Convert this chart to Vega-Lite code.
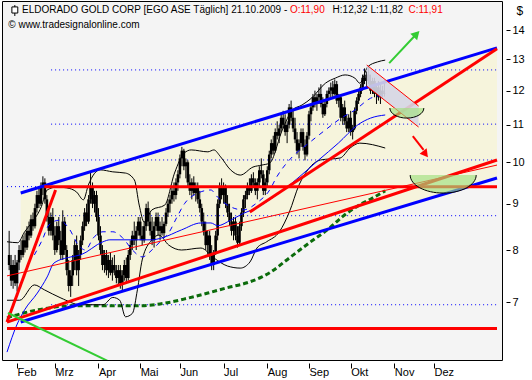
{
 "$schema": "https://vega.github.io/schema/vega-lite/v6.json",
 "width": 500, "height": 359,
 "autosize": {"type": "none"},
 "padding": {"left": 2, "top": 1, "right": 30, "bottom": 20},
 "background": "#ffffff",
 "config": {
  "view": {"stroke": "#000000", "strokeWidth": 1, "fill": "#f4f4f4"},
  "axis": {"grid": false, "domain": false, "tickColor": "#000000", "labelColor": "#000000", "labelFont": "Liberation Sans", "labelFontSize": 11, "titleFont": "Liberation Sans"}
 },
 "datasets": {
  "channel": [{"x": 1.83, "y": 9.25, "y2": 6.66}, {"x": 241.7, "y": 13.38, "y2": 9.61}],
  "lav": [{"x": 176.1, "y": 12.81, "y2": 12.14}, {"x": 202.2, "y": 11.54, "y2": 10.94}],
  "fib": [
   {"x": 17.13, "x2": 241.7, "y": 12.65}, {"x": 17.13, "x2": 241.7, "y": 11.02}, {"x": 17.13, "x2": 241.7, "y": 10.06},
   {"x": -5.08, "x2": 241.7, "y": 9.40}, {"x": 17.13, "x2": 241.7, "y": 8.73}, {"x": 17.13, "x2": 241.7, "y": 6.96}
  ],
  "bowls": [{"id": "a", "x": 196.3, "y": 11.48}, {"id": "b", "x": 214.6, "y": 9.68}],
  "heads": [{"id": "g", "x": 201.2, "y": 13.86}, {"id": "r", "x": 205.7, "y": 10.21}],
  "iconline": [{"x": -1.14, "y": 14.51, "y2": 14.92}],
  "iconbox": [{"x": -2.62, "x2": 0.35, "y": 14.62, "y2": 14.85}],
  "labels": [
   {"id": "k1", "x": 2.47, "y": 14.72, "text": "ELDORADO GOLD CORP [EGO ASE  Täglich] 21.10.2009 -"},
   {"id": "r1", "x": 137.4, "y": 14.72, "text": "O:11,90"},
   {"id": "k2", "x": 158.9, "y": 14.72, "text": "H:12,32 L:11,82"},
   {"id": "r2", "x": 197.1, "y": 14.72, "text": "C:11,91"},
   {"id": "k3", "x": -4.44, "y": 14.18, "text": "© www.tradesignalonline.com"}
  ],
  "lines": [
   {"line": "blueUpper", "x": 1.83, "y": 9.25}, {"line": "blueUpper", "x": 241.7, "y": 13.38},
   {"line": "blueLower", "x": 1.83, "y": 6.66}, {"line": "blueLower", "x": 241.7, "y": 9.61},
   {"line": "redLower", "x": -5.08, "y": 6.66}, {"line": "redLower", "x": 241.7, "y": 10.06},
   {"line": "redSteepLeft", "x": -5.08, "y": 6.66}, {"line": "redSteepLeft", "x": 19.4, "y": 9.32},
   {"line": "redHoriz", "x": 13.7, "y": 9.40}, {"line": "redHoriz", "x": 241.7, "y": 9.40},
   {"line": "redSteepUpper", "x": 117.2, "y": 8.81}, {"line": "redSteepUpper", "x": 241.7, "y": 13.35},
   {"line": "redBottom", "x": -5.08, "y": 6.55}, {"line": "redBottom", "x": 241.7, "y": 6.55},
   {"line": "redThin", "x": -5.08, "y": 7.49}, {"line": "redThin", "x": 241.7, "y": 9.93},
   {"line": "lavTop", "x": 176.1, "y": 12.81}, {"line": "lavTop", "x": 202.2, "y": 11.54},
   {"line": "lavBottom", "x": 176.1, "y": 12.14}, {"line": "lavBottom", "x": 202.2, "y": 10.94},
   {"line": "greenLine", "x": -4.59, "y": 6.815}, {"line": "greenLine", "x": 45.8, "y": 6.03},
   {"line": "greenArrow", "x": 187.4, "y": 12.87}, {"line": "greenArrow", "x": 200.2, "y": 13.79},
   {"line": "redArrow", "x": 199.3, "y": 10.69}, {"line": "redArrow", "x": 204.7, "y": 10.32},
   {"line": "ma200", "x": -5.08, "y": 6.73}, {"line": "ma200", "x": 3.8, "y": 6.82}, {"line": "ma200", "x": 13.6, "y": 6.89}, {"line": "ma200", "x": 27.0, "y": 6.94}, {"line": "ma200", "x": 43.3, "y": 6.94}, {"line": "ma200", "x": 59.6, "y": 6.94}, {"line": "ma200", "x": 76.4, "y": 7.0}, {"line": "ma200", "x": 86.2, "y": 7.08}, {"line": "ma200", "x": 96.1, "y": 7.17}, {"line": "ma200", "x": 106.0, "y": 7.27}, {"line": "ma200", "x": 115.8, "y": 7.36}, {"line": "ma200", "x": 123.3, "y": 7.47}, {"line": "ma200", "x": 127.2, "y": 7.55}, {"line": "ma200", "x": 137.1, "y": 7.84}, {"line": "ma200", "x": 146.9, "y": 8.14}, {"line": "ma200", "x": 156.8, "y": 8.44}, {"line": "ma200", "x": 164.2, "y": 8.72}, {"line": "ma200", "x": 171.6, "y": 8.95}, {"line": "ma200", "x": 179.0, "y": 9.13}, {"line": "ma200", "x": 185.4, "y": 9.30},
   {"line": "ma50", "x": -5.08, "y": 6.17}, {"line": "ma50", "x": -0.15, "y": 6.61}, {"line": "ma50", "x": 3.8, "y": 6.87}, {"line": "ma50", "x": 10.2, "y": 7.17}, {"line": "ma50", "x": 15.15, "y": 7.47}, {"line": "ma50", "x": 18.6, "y": 7.74}, {"line": "ma50", "x": 27.0, "y": 7.86}, {"line": "ma50", "x": 31.9, "y": 7.90}, {"line": "ma50", "x": 43.3, "y": 8.17}, {"line": "ma50", "x": 46.7, "y": 8.21}, {"line": "ma50", "x": 59.6, "y": 8.21}, {"line": "ma50", "x": 67.9, "y": 8.21}, {"line": "ma50", "x": 72.9, "y": 8.25}, {"line": "ma50", "x": 82.8, "y": 8.42}, {"line": "ma50", "x": 92.6, "y": 8.57}, {"line": "ma50", "x": 97.6, "y": 8.57}, {"line": "ma50", "x": 101.0, "y": 8.51}, {"line": "ma50", "x": 107.5, "y": 8.63}, {"line": "ma50", "x": 113.9, "y": 8.78}, {"line": "ma50", "x": 120.8, "y": 8.91}, {"line": "ma50", "x": 127.2, "y": 9.09}, {"line": "ma50", "x": 132.1, "y": 9.25}, {"line": "ma50", "x": 142.0, "y": 9.63}, {"line": "ma50", "x": 151.9, "y": 10.06}, {"line": "ma50", "x": 161.8, "y": 10.50}, {"line": "ma50", "x": 171.6, "y": 11.00}, {"line": "ma50", "x": 178.0, "y": 11.19}, {"line": "ma50", "x": 185.4, "y": 11.28},
   {"line": "ma20", "x": 8.7, "y": 7.90}, {"line": "ma20", "x": 12.7, "y": 8.21}, {"line": "ma20", "x": 16.1, "y": 8.53}, {"line": "ma20", "x": 21.1, "y": 8.63}, {"line": "ma20", "x": 26.0, "y": 8.46}, {"line": "ma20", "x": 30.9, "y": 8.10}, {"line": "ma20", "x": 34.4, "y": 8.00}, {"line": "ma20", "x": 38.4, "y": 8.25}, {"line": "ma20", "x": 43.3, "y": 8.38}, {"line": "ma20", "x": 48.2, "y": 8.38}, {"line": "ma20", "x": 53.2, "y": 8.25}, {"line": "ma20", "x": 58.1, "y": 8.00}, {"line": "ma20", "x": 63.0, "y": 7.86}, {"line": "ma20", "x": 67.9, "y": 8.00}, {"line": "ma20", "x": 72.9, "y": 8.21}, {"line": "ma20", "x": 76.4, "y": 8.36}, {"line": "ma20", "x": 80.3, "y": 8.68}, {"line": "ma20", "x": 84.3, "y": 9.00}, {"line": "ma20", "x": 91.2, "y": 9.25}, {"line": "ma20", "x": 97.6, "y": 9.32}, {"line": "ma20", "x": 101.0, "y": 9.15}, {"line": "ma20", "x": 107.5, "y": 8.93}, {"line": "ma20", "x": 113.9, "y": 8.86}, {"line": "ma20", "x": 120.8, "y": 9.02}, {"line": "ma20", "x": 127.2, "y": 9.32}, {"line": "ma20", "x": 130.7, "y": 9.63}, {"line": "ma20", "x": 138.6, "y": 10.14}, {"line": "ma20", "x": 146.9, "y": 10.50}, {"line": "ma20", "x": 155.3, "y": 10.86}, {"line": "ma20", "x": 163.2, "y": 11.19}, {"line": "ma20", "x": 170.1, "y": 11.42}, {"line": "ma20", "x": 178.0, "y": 11.77}, {"line": "ma20", "x": 183.9, "y": 11.86},
   {"line": "bbUpper", "x": -5.08, "y": 8.17}, {"line": "bbUpper", "x": 0.35, "y": 8.15}, {"line": "bbUpper", "x": 3.8, "y": 8.38}, {"line": "bbUpper", "x": 7.26, "y": 8.57}, {"line": "bbUpper", "x": 12.2, "y": 8.93}, {"line": "bbUpper", "x": 15.15, "y": 9.32}, {"line": "bbUpper", "x": 20.1, "y": 9.39}, {"line": "bbUpper", "x": 25.0, "y": 9.37}, {"line": "bbUpper", "x": 30.0, "y": 9.27}, {"line": "bbUpper", "x": 33.4, "y": 9.09}, {"line": "bbUpper", "x": 35.9, "y": 9.44}, {"line": "bbUpper", "x": 41.8, "y": 9.81}, {"line": "bbUpper", "x": 48.2, "y": 9.76}, {"line": "bbUpper", "x": 54.6, "y": 9.73}, {"line": "bbUpper", "x": 59.1, "y": 9.56}, {"line": "bbUpper", "x": 61.5, "y": 8.97}, {"line": "bbUpper", "x": 64.0, "y": 8.59}, {"line": "bbUpper", "x": 67.9, "y": 8.86}, {"line": "bbUpper", "x": 74.4, "y": 8.97}, {"line": "bbUpper", "x": 79.3, "y": 9.73}, {"line": "bbUpper", "x": 84.2, "y": 10.24}, {"line": "bbUpper", "x": 87.7, "y": 10.32}, {"line": "bbUpper", "x": 96.1, "y": 10.27}, {"line": "bbUpper", "x": 99.1, "y": 10.32}, {"line": "bbUpper", "x": 102.5, "y": 10.14}, {"line": "bbUpper", "x": 107.5, "y": 9.81}, {"line": "bbUpper", "x": 112.4, "y": 9.68}, {"line": "bbUpper", "x": 118.8, "y": 9.88}, {"line": "bbUpper", "x": 123.3, "y": 9.93}, {"line": "bbUpper", "x": 127.2, "y": 9.98}, {"line": "bbUpper", "x": 133.6, "y": 10.86}, {"line": "bbUpper", "x": 138.6, "y": 11.42}, {"line": "bbUpper", "x": 143.5, "y": 11.57}, {"line": "bbUpper", "x": 148.4, "y": 11.78}, {"line": "bbUpper", "x": 155.3, "y": 12.23}, {"line": "bbUpper", "x": 160.3, "y": 12.39}, {"line": "bbUpper", "x": 165.2, "y": 12.49}, {"line": "bbUpper", "x": 170.1, "y": 12.39}, {"line": "bbUpper", "x": 172.6, "y": 12.23}, {"line": "bbUpper", "x": 176.6, "y": 12.75}, {"line": "bbUpper", "x": 181.5, "y": 12.91}, {"line": "bbUpper", "x": 185.4, "y": 12.97},
   {"line": "bbLower", "x": -5.08, "y": 7.04}, {"line": "bbLower", "x": 1.33, "y": 7.04}, {"line": "bbLower", "x": 8.7, "y": 7.32}, {"line": "bbLower", "x": 13.7, "y": 7.23}, {"line": "bbLower", "x": 22.1, "y": 7.08}, {"line": "bbLower", "x": 31.9, "y": 6.96}, {"line": "bbLower", "x": 43.3, "y": 6.96}, {"line": "bbLower", "x": 48.2, "y": 7.09}, {"line": "bbLower", "x": 51.7, "y": 7.04}, {"line": "bbLower", "x": 54.6, "y": 6.75}, {"line": "bbLower", "x": 58.1, "y": 6.81}, {"line": "bbLower", "x": 60.6, "y": 7.23}, {"line": "bbLower", "x": 63.0, "y": 7.80}, {"line": "bbLower", "x": 67.9, "y": 8.21}, {"line": "bbLower", "x": 71.4, "y": 8.31}, {"line": "bbLower", "x": 76.4, "y": 8.10}, {"line": "bbLower", "x": 82.8, "y": 8.00}, {"line": "bbLower", "x": 92.6, "y": 8.04}, {"line": "bbLower", "x": 99.1, "y": 7.84}, {"line": "bbLower", "x": 106.0, "y": 7.68}, {"line": "bbLower", "x": 112.4, "y": 7.64}, {"line": "bbLower", "x": 117.3, "y": 7.76}, {"line": "bbLower", "x": 120.8, "y": 8.04}, {"line": "bbLower", "x": 125.7, "y": 8.17}, {"line": "bbLower", "x": 132.1, "y": 8.38}, {"line": "bbLower", "x": 137.1, "y": 8.81}, {"line": "bbLower", "x": 142.0, "y": 9.44}, {"line": "bbLower", "x": 146.9, "y": 9.84}, {"line": "bbLower", "x": 152.9, "y": 10.06}, {"line": "bbLower", "x": 162.7, "y": 10.11}, {"line": "bbLower", "x": 167.7, "y": 10.37}, {"line": "bbLower", "x": 172.6, "y": 10.50}, {"line": "bbLower", "x": 185.4, "y": 10.37}
  ],
  "candles": [
   {"x": -4, "o": 7.9, "h": 8.4, "l": 7.6, "c": 7.7}, {"x": -3, "o": 7.7, "h": 7.9, "l": 7.3, "c": 7.4}, {"x": -2, "o": 7.4, "h": 7.8, "l": 7.25, "c": 7.7}, {"x": -1, "o": 7.7, "h": 7.9, "l": 7.3, "c": 7.35},
   {"x": 0, "o": 7.35, "h": 7.8, "l": 7.2, "c": 7.75}, {"x": 1, "o": 7.75, "h": 8.1, "l": 7.6, "c": 8.0}, {"x": 2, "o": 8.0, "h": 8.2, "l": 7.8, "c": 7.9}, {"x": 3, "o": 7.9, "h": 8.3, "l": 7.85, "c": 8.2},
   {"x": 4, "o": 8.2, "h": 8.35, "l": 7.95, "c": 8.05}, {"x": 5, "o": 8.05, "h": 8.5, "l": 8.0, "c": 8.4}, {"x": 6, "o": 8.4, "h": 8.6, "l": 8.2, "c": 8.3}, {"x": 7, "o": 8.3, "h": 8.75, "l": 8.25, "c": 8.65},
   {"x": 8, "o": 8.65, "h": 8.8, "l": 8.4, "c": 8.5}, {"x": 9, "o": 8.5, "h": 9.0, "l": 8.45, "c": 8.9}, {"x": 10, "o": 8.9, "h": 9.3, "l": 8.8, "c": 9.2}, {"x": 11, "o": 9.2, "h": 9.4, "l": 8.9, "c": 9.0},
   {"x": 12, "o": 9.0, "h": 9.5, "l": 8.95, "c": 9.4}, {"x": 13, "o": 9.4, "h": 9.65, "l": 9.2, "c": 9.5}, {"x": 14, "o": 9.5, "h": 9.6, "l": 9.0, "c": 9.1}, {"x": 15, "o": 9.1, "h": 9.2, "l": 8.6, "c": 8.7},
   {"x": 16, "o": 8.7, "h": 8.9, "l": 8.3, "c": 8.4}, {"x": 17, "o": 8.4, "h": 8.8, "l": 8.3, "c": 8.7}, {"x": 18, "o": 8.7, "h": 8.9, "l": 8.2, "c": 8.3}, {"x": 19, "o": 8.3, "h": 8.5, "l": 7.9, "c": 8.0},
   {"x": 20, "o": 8.0, "h": 8.6, "l": 7.95, "c": 8.5}, {"x": 21, "o": 8.5, "h": 8.7, "l": 8.1, "c": 8.2}, {"x": 22, "o": 8.2, "h": 8.4, "l": 7.8, "c": 7.9}, {"x": 23, "o": 7.9, "h": 8.85, "l": 7.8, "c": 8.6},
   {"x": 24, "o": 8.6, "h": 8.7, "l": 7.9, "c": 8.0}, {"x": 25, "o": 8.0, "h": 8.1, "l": 7.5, "c": 7.6}, {"x": 26, "o": 7.6, "h": 7.8, "l": 7.2, "c": 7.3}, {"x": 27, "o": 7.3, "h": 7.6, "l": 7.1, "c": 7.5},
   {"x": 28, "o": 7.5, "h": 7.9, "l": 7.3, "c": 7.8}, {"x": 29, "o": 7.8, "h": 8.2, "l": 7.6, "c": 8.1}, {"x": 30, "o": 8.1, "h": 8.3, "l": 7.5, "c": 7.6}, {"x": 31, "o": 7.6, "h": 8.0, "l": 7.3, "c": 7.9},
   {"x": 32, "o": 7.9, "h": 8.3, "l": 7.8, "c": 8.2}, {"x": 33, "o": 8.2, "h": 8.6, "l": 8.1, "c": 8.5}, {"x": 34, "o": 8.5, "h": 8.9, "l": 8.4, "c": 8.8}, {"x": 35, "o": 8.8, "h": 9.0, "l": 8.5, "c": 8.6},
   {"x": 36, "o": 8.6, "h": 9.2, "l": 8.55, "c": 9.1}, {"x": 37, "o": 9.1, "h": 9.75, "l": 9.0, "c": 9.4}, {"x": 38, "o": 9.4, "h": 9.5, "l": 8.9, "c": 9.0}, {"x": 39, "o": 9.0, "h": 9.3, "l": 8.8, "c": 9.2},
   {"x": 40, "o": 9.2, "h": 9.3, "l": 8.6, "c": 8.7}, {"x": 41, "o": 8.7, "h": 8.9, "l": 8.2, "c": 8.3}, {"x": 42, "o": 8.3, "h": 8.5, "l": 7.9, "c": 8.0}, {"x": 43, "o": 8.0, "h": 8.1, "l": 7.6, "c": 7.7},
   {"x": 44, "o": 7.7, "h": 8.0, "l": 7.55, "c": 7.9}, {"x": 45, "o": 7.9, "h": 8.0, "l": 7.5, "c": 7.6}, {"x": 46, "o": 7.6, "h": 7.9, "l": 7.45, "c": 7.8}, {"x": 47, "o": 7.8, "h": 7.95, "l": 7.5, "c": 7.55},
   {"x": 48, "o": 7.55, "h": 7.85, "l": 7.4, "c": 7.7}, {"x": 49, "o": 7.7, "h": 7.9, "l": 7.5, "c": 7.6}, {"x": 50, "o": 7.6, "h": 7.7, "l": 7.35, "c": 7.45}, {"x": 51, "o": 7.45, "h": 7.7, "l": 7.3, "c": 7.6},
   {"x": 52, "o": 7.6, "h": 7.7, "l": 7.25, "c": 7.35}, {"x": 53, "o": 7.35, "h": 7.6, "l": 7.22, "c": 7.5}, {"x": 54, "o": 7.5, "h": 7.8, "l": 7.4, "c": 7.7}, {"x": 55, "o": 7.7, "h": 7.85, "l": 7.35, "c": 7.45},
   {"x": 56, "o": 7.45, "h": 8.0, "l": 7.4, "c": 7.9}, {"x": 57, "o": 7.9, "h": 8.2, "l": 7.8, "c": 8.1}, {"x": 58, "o": 8.1, "h": 8.4, "l": 8.0, "c": 8.3}, {"x": 59, "o": 8.3, "h": 8.6, "l": 8.1, "c": 8.2},
   {"x": 60, "o": 8.2, "h": 8.5, "l": 8.0, "c": 8.4}, {"x": 61, "o": 8.4, "h": 8.7, "l": 8.3, "c": 8.6}, {"x": 62, "o": 8.6, "h": 8.7, "l": 8.2, "c": 8.3}, {"x": 63, "o": 8.3, "h": 8.5, "l": 8.1, "c": 8.2},
   {"x": 64, "o": 8.2, "h": 8.6, "l": 8.15, "c": 8.5}, {"x": 65, "o": 8.5, "h": 9.0, "l": 8.4, "c": 8.9}, {"x": 66, "o": 8.9, "h": 9.05, "l": 8.5, "c": 8.6}, {"x": 67, "o": 8.6, "h": 8.8, "l": 8.3, "c": 8.4},
   {"x": 68, "o": 8.4, "h": 8.7, "l": 8.1, "c": 8.2}, {"x": 69, "o": 8.2, "h": 8.6, "l": 8.05, "c": 8.5}, {"x": 70, "o": 8.5, "h": 8.8, "l": 8.4, "c": 8.7}, {"x": 71, "o": 8.7, "h": 8.8, "l": 8.3, "c": 8.4},
   {"x": 72, "o": 8.4, "h": 8.6, "l": 8.2, "c": 8.5}, {"x": 73, "o": 8.5, "h": 8.7, "l": 8.3, "c": 8.35}, {"x": 74, "o": 8.35, "h": 8.6, "l": 8.25, "c": 8.55}, {"x": 75, "o": 8.55, "h": 8.9, "l": 8.5, "c": 8.8},
   {"x": 76, "o": 8.8, "h": 9.1, "l": 8.7, "c": 9.0}, {"x": 77, "o": 9.0, "h": 9.2, "l": 8.8, "c": 9.1}, {"x": 78, "o": 9.1, "h": 9.4, "l": 9.0, "c": 9.3}, {"x": 79, "o": 9.3, "h": 9.5, "l": 9.05, "c": 9.2},
   {"x": 80, "o": 9.2, "h": 9.6, "l": 9.1, "c": 9.5}, {"x": 81, "o": 9.5, "h": 9.8, "l": 9.3, "c": 9.7}, {"x": 82, "o": 9.7, "h": 10.2, "l": 9.6, "c": 10.1}, {"x": 83, "o": 10.1, "h": 10.4, "l": 9.9, "c": 10.3},
   {"x": 84, "o": 10.3, "h": 10.35, "l": 9.8, "c": 9.9}, {"x": 85, "o": 9.9, "h": 10.1, "l": 9.6, "c": 10.0}, {"x": 86, "o": 10.0, "h": 10.05, "l": 9.4, "c": 9.5}, {"x": 87, "o": 9.5, "h": 9.7, "l": 9.2, "c": 9.3},
   {"x": 88, "o": 9.3, "h": 9.6, "l": 9.1, "c": 9.5}, {"x": 89, "o": 9.5, "h": 9.65, "l": 9.2, "c": 9.25}, {"x": 90, "o": 9.25, "h": 9.5, "l": 9.05, "c": 9.4}, {"x": 91, "o": 9.4, "h": 9.5, "l": 9.0, "c": 9.1},
   {"x": 92, "o": 9.1, "h": 9.3, "l": 8.8, "c": 8.9}, {"x": 93, "o": 8.9, "h": 9.0, "l": 8.5, "c": 8.6}, {"x": 94, "o": 8.6, "h": 8.8, "l": 8.3, "c": 8.4}, {"x": 95, "o": 8.4, "h": 8.6, "l": 8.0, "c": 8.1},
   {"x": 96, "o": 8.1, "h": 8.4, "l": 7.9, "c": 8.3}, {"x": 97, "o": 8.3, "h": 8.4, "l": 7.8, "c": 7.9}, {"x": 98, "o": 7.9, "h": 8.1, "l": 7.6, "c": 7.7}, {"x": 99, "o": 7.7, "h": 8.0, "l": 7.6, "c": 7.95},
   {"x": 100, "o": 7.95, "h": 8.4, "l": 7.9, "c": 8.3}, {"x": 101, "o": 8.3, "h": 9.1, "l": 8.2, "c": 9.0}, {"x": 102, "o": 9.0, "h": 9.5, "l": 8.9, "c": 9.4}, {"x": 103, "o": 9.4, "h": 9.6, "l": 9.1, "c": 9.2},
   {"x": 104, "o": 9.2, "h": 9.5, "l": 9.0, "c": 9.4}, {"x": 105, "o": 9.4, "h": 9.45, "l": 8.9, "c": 9.0}, {"x": 106, "o": 9.0, "h": 9.2, "l": 8.7, "c": 8.8}, {"x": 107, "o": 8.8, "h": 9.0, "l": 8.5, "c": 8.6},
   {"x": 108, "o": 8.6, "h": 8.8, "l": 8.3, "c": 8.4}, {"x": 109, "o": 8.4, "h": 8.7, "l": 8.2, "c": 8.6}, {"x": 110, "o": 8.6, "h": 8.7, "l": 8.2, "c": 8.3}, {"x": 111, "o": 8.3, "h": 8.5, "l": 8.05, "c": 8.15},
   {"x": 112, "o": 8.15, "h": 8.6, "l": 8.1, "c": 8.5}, {"x": 113, "o": 8.5, "h": 8.9, "l": 8.4, "c": 8.8}, {"x": 114, "o": 8.8, "h": 9.2, "l": 8.7, "c": 9.1}, {"x": 115, "o": 9.1, "h": 9.3, "l": 8.9, "c": 9.2},
   {"x": 116, "o": 9.2, "h": 9.5, "l": 9.1, "c": 9.4}, {"x": 117, "o": 9.4, "h": 9.6, "l": 9.2, "c": 9.3}, {"x": 118, "o": 9.3, "h": 9.7, "l": 9.25, "c": 9.6}, {"x": 119, "o": 9.6, "h": 9.75, "l": 9.4, "c": 9.5},
   {"x": 120, "o": 9.5, "h": 9.6, "l": 9.2, "c": 9.3}, {"x": 121, "o": 9.3, "h": 9.6, "l": 9.1, "c": 9.5}, {"x": 122, "o": 9.5, "h": 9.9, "l": 9.4, "c": 9.8}, {"x": 123, "o": 9.8, "h": 10.1, "l": 9.6, "c": 9.7},
   {"x": 124, "o": 9.7, "h": 9.8, "l": 9.2, "c": 9.3}, {"x": 125, "o": 9.3, "h": 9.6, "l": 9.2, "c": 9.5}, {"x": 126, "o": 9.5, "h": 9.9, "l": 9.4, "c": 9.8}, {"x": 127, "o": 9.8, "h": 10.3, "l": 9.7, "c": 10.2},
   {"x": 128, "o": 10.2, "h": 10.6, "l": 10.1, "c": 10.5}, {"x": 129, "o": 10.5, "h": 10.7, "l": 10.2, "c": 10.3}, {"x": 130, "o": 10.3, "h": 10.9, "l": 10.25, "c": 10.8}, {"x": 131, "o": 10.8, "h": 11.1, "l": 10.6, "c": 10.7},
   {"x": 132, "o": 10.7, "h": 11.0, "l": 10.5, "c": 10.9}, {"x": 133, "o": 10.9, "h": 11.3, "l": 10.8, "c": 11.2}, {"x": 134, "o": 11.2, "h": 11.4, "l": 10.9, "c": 11.0}, {"x": 135, "o": 11.0, "h": 11.3, "l": 10.7, "c": 10.8},
   {"x": 136, "o": 10.8, "h": 11.1, "l": 10.5, "c": 11.0}, {"x": 137, "o": 11.0, "h": 11.6, "l": 10.9, "c": 11.5}, {"x": 138, "o": 11.5, "h": 11.7, "l": 11.1, "c": 11.2}, {"x": 139, "o": 11.2, "h": 11.4, "l": 10.8, "c": 10.9},
   {"x": 140, "o": 10.9, "h": 11.2, "l": 10.5, "c": 10.6}, {"x": 141, "o": 10.6, "h": 10.8, "l": 10.2, "c": 10.3}, {"x": 142, "o": 10.3, "h": 10.6, "l": 10.1, "c": 10.5}, {"x": 143, "o": 10.5, "h": 10.9, "l": 10.4, "c": 10.8},
   {"x": 144, "o": 10.8, "h": 10.9, "l": 10.3, "c": 10.4}, {"x": 145, "o": 10.4, "h": 10.6, "l": 10.05, "c": 10.2}, {"x": 146, "o": 10.2, "h": 10.8, "l": 10.15, "c": 10.7}, {"x": 147, "o": 10.7, "h": 11.4, "l": 10.6, "c": 11.3},
   {"x": 148, "o": 11.3, "h": 11.6, "l": 11.1, "c": 11.5}, {"x": 149, "o": 11.5, "h": 11.9, "l": 11.4, "c": 11.8}, {"x": 150, "o": 11.8, "h": 12.0, "l": 11.5, "c": 11.6}, {"x": 151, "o": 11.6, "h": 11.9, "l": 11.4, "c": 11.8},
   {"x": 152, "o": 11.8, "h": 12.1, "l": 11.6, "c": 11.9}, {"x": 153, "o": 11.9, "h": 12.2, "l": 11.5, "c": 11.6}, {"x": 154, "o": 11.6, "h": 11.8, "l": 11.2, "c": 11.3}, {"x": 155, "o": 11.3, "h": 11.7, "l": 11.25, "c": 11.6},
   {"x": 156, "o": 11.6, "h": 12.0, "l": 11.5, "c": 11.9}, {"x": 157, "o": 11.9, "h": 12.1, "l": 11.7, "c": 12.0}, {"x": 158, "o": 12.0, "h": 12.25, "l": 11.8, "c": 12.1}, {"x": 159, "o": 12.1, "h": 12.3, "l": 11.8, "c": 11.9},
   {"x": 160, "o": 11.9, "h": 12.35, "l": 11.85, "c": 12.2}, {"x": 161, "o": 12.2, "h": 12.3, "l": 11.6, "c": 11.7}, {"x": 162, "o": 11.7, "h": 11.9, "l": 11.5, "c": 11.8}, {"x": 163, "o": 11.8, "h": 11.85, "l": 11.1, "c": 11.2},
   {"x": 164, "o": 11.2, "h": 11.6, "l": 11.0, "c": 11.5}, {"x": 165, "o": 11.5, "h": 11.7, "l": 11.0, "c": 11.1}, {"x": 166, "o": 11.1, "h": 11.3, "l": 10.8, "c": 10.9}, {"x": 167, "o": 10.9, "h": 11.3, "l": 10.8, "c": 11.2},
   {"x": 168, "o": 11.2, "h": 11.4, "l": 10.7, "c": 10.8}, {"x": 169, "o": 10.8, "h": 11.0, "l": 10.6, "c": 10.9}, {"x": 170, "o": 10.9, "h": 11.5, "l": 10.85, "c": 11.4}, {"x": 171, "o": 11.4, "h": 11.8, "l": 11.3, "c": 11.7},
   {"x": 172, "o": 11.7, "h": 12.0, "l": 11.6, "c": 11.9}, {"x": 173, "o": 11.9, "h": 12.2, "l": 11.8, "c": 12.1}, {"x": 174, "o": 12.1, "h": 12.5, "l": 12.0, "c": 12.4}, {"x": 175, "o": 12.4, "h": 12.7, "l": 12.2, "c": 12.3},
   {"x": 176, "o": 12.3, "h": 12.6, "l": 12.1, "c": 12.5}, {"x": 177, "o": 12.5, "h": 12.75, "l": 12.2, "c": 12.3}, {"x": 178, "o": 12.3, "h": 12.5, "l": 11.9, "c": 12.0}, {"x": 179, "o": 12.0, "h": 12.4, "l": 11.9, "c": 12.3},
   {"x": 180, "o": 12.3, "h": 12.4, "l": 11.8, "c": 11.9}, {"x": 181, "o": 11.9, "h": 12.2, "l": 11.6, "c": 12.1}, {"x": 182, "o": 12.1, "h": 12.3, "l": 11.7, "c": 11.8}, {"x": 183, "o": 11.8, "h": 12.2, "l": 11.6, "c": 12.0},
   {"x": 184, "o": 12.0, "h": 12.15, "l": 11.75, "c": 11.9}, {"x": 185, "o": 11.9, "h": 12.32, "l": 11.82, "c": 11.91}
  ]
 },
 "encoding": {
  "x": {"field": "x", "type": "quantitative", "scale": {"type": "linear", "domain": [-5.08, 241.7], "nice": false, "zero": false},
        "axis": {"title": null, "values": [0, 19, 41, 62, 82, 104, 126, 147, 168, 190, 210], "labelExpr": "datum.value==0?'Feb':datum.value==19?'Mrz':datum.value==41?'Apr':datum.value==62?'Mai':datum.value==82?'Jun':datum.value==104?'Jul':datum.value==126?'Aug':datum.value==147?'Sep':datum.value==168?'Okt':datum.value==190?'Nov':'Dez'", "tickSize": 5, "offset": 3, "labelAlign": "left", "labelBaseline": "top", "labelPadding": -2, "labelDx": 1, "labelFlush": false, "labelOverlap": false, "labelBound": false}},
  "y": {"field": "y", "type": "quantitative", "scale": {"type": "log", "domain": [6.047, 15.075], "nice": false},
        "axis": {"title": "$", "orient": "right", "values": [7, 8, 9, 10, 11, 12, 13, 14], "format": "d", "tickSize": 4, "offset": 4, "labelPadding": 2, "labelAlign": "left", "labelBaseline": "middle", "titleAngle": 0, "titleX": 10, "titleY": 9, "titleAlign": "left", "titleBaseline": "middle", "titleFontSize": 12, "titleFontWeight": "normal", "titleColor": "#000000"}}
 },
 "layer": [
  {"data": {"name": "channel"}, "mark": {"type": "area", "color": "#f6f4dc", "opacity": 1}, "encoding": {"y2": {"field": "y2"}}},
  {"data": {"name": "fib"}, "mark": {"type": "rule", "color": "#0000ff", "strokeWidth": 1, "strokeDash": [1, 3]}, "encoding": {"x2": {"field": "x2"}}},
  {"data": {"name": "candles"}, "mark": {"type": "rule", "color": "#000000", "strokeWidth": 1},
   "encoding": {"y": {"field": "l", "type": "quantitative", "scale": {"type": "log", "domain": [6.047, 15.075], "nice": false}}, "y2": {"field": "h"}}},
  {"data": {"name": "candles"}, "mark": {"type": "bar", "width": 2.6, "color": "#000000"},
   "encoding": {"y": {"field": "o", "type": "quantitative", "scale": {"type": "log", "domain": [6.047, 15.075], "nice": false}}, "y2": {"field": "c"}}},
  {"data": {"name": "lines"}, "transform": [{"filter": {"field": "line", "equal": "ma200"}}], "mark": {"type": "line", "color": "#0b6b0b", "strokeWidth": 3, "strokeDash": [5, 3], "interpolate": "monotone", "clip": true}},
  {"data": {"name": "lines"}, "transform": [{"filter": {"field": "line", "oneOf": ["bbUpper", "bbLower"]}}], "mark": {"type": "line", "color": "#000000", "strokeWidth": 1, "interpolate": "monotone", "clip": true}, "encoding": {"detail": {"field": "line"}}},
  {"data": {"name": "lines"}, "transform": [{"filter": {"field": "line", "equal": "ma20"}}], "mark": {"type": "line", "color": "#0000ff", "strokeWidth": 1, "strokeDash": [5, 5], "interpolate": "monotone", "clip": true}},
  {"data": {"name": "lines"}, "transform": [{"filter": {"field": "line", "equal": "ma50"}}], "mark": {"type": "line", "color": "#0000ff", "strokeWidth": 1, "interpolate": "monotone", "clip": true}},
  {"data": {"name": "lines"}, "transform": [{"filter": {"field": "line", "equal": "redThin"}}], "mark": {"type": "line", "color": "#ff0000", "strokeWidth": 1, "clip": true}},
  {"data": {"name": "lines"}, "transform": [{"filter": {"field": "line", "oneOf": ["blueUpper", "blueLower"]}}], "mark": {"type": "line", "color": "#0000ff", "strokeWidth": 3, "clip": true}, "encoding": {"detail": {"field": "line"}}},
  {"data": {"name": "lines"}, "transform": [{"filter": {"field": "line", "oneOf": ["redLower", "redSteepLeft", "redHoriz", "redSteepUpper", "redBottom"]}}], "mark": {"type": "line", "color": "#ff0000", "strokeWidth": 3, "clip": true}, "encoding": {"detail": {"field": "line"}}},
  {"data": {"name": "lines"}, "transform": [{"filter": {"field": "line", "equal": "greenLine"}}], "mark": {"type": "line", "color": "#33cc33", "strokeWidth": 2, "clip": true}},
  {"data": {"name": "lav"}, "mark": {"type": "area", "color": "#d6d6e4", "opacity": 0.9}, "encoding": {"y2": {"field": "y2"}}},
  {"data": {"name": "lines"}, "transform": [{"filter": {"field": "line", "oneOf": ["lavTop", "lavBottom"]}}], "mark": {"type": "line", "color": "#ff0000", "strokeWidth": 1}, "encoding": {"detail": {"field": "line"}}},
  {"data": {"name": "bowls"}, "transform": [{"filter": {"field": "id", "equal": "a"}}], "mark": {"type": "point", "shape": "M -1 0 A 1 0.59 0 0 0 1 0", "size": 1156, "filled": true, "fill": "#9fe07e", "fillOpacity": 0.65, "stroke": "#000000", "strokeWidth": 1, "opacity": 1}},
  {"data": {"name": "bowls"}, "transform": [{"filter": {"field": "id", "equal": "b"}}], "mark": {"type": "point", "shape": "M -1 0 A 1 0.545 0 0 0 1 0", "size": 4356, "filled": true, "fill": "#9fe07e", "fillOpacity": 0.65, "stroke": "#000000", "strokeWidth": 1, "opacity": 1}},
  {"data": {"name": "lines"}, "transform": [{"filter": {"field": "line", "equal": "greenArrow"}}], "mark": {"type": "line", "color": "#33cc33", "strokeWidth": 2}},
  {"data": {"name": "lines"}, "transform": [{"filter": {"field": "line", "equal": "redArrow"}}], "mark": {"type": "line", "color": "#ff0000", "strokeWidth": 2}},
  {"data": {"name": "heads"}, "transform": [{"filter": {"field": "id", "equal": "g"}}], "mark": {"type": "point", "shape": "triangle-up", "angle": 44, "size": 90, "filled": true, "color": "#33cc33", "opacity": 1}},
  {"data": {"name": "heads"}, "transform": [{"filter": {"field": "id", "equal": "r"}}], "mark": {"type": "point", "shape": "triangle-up", "angle": 142, "size": 80, "filled": true, "color": "#ff0000", "opacity": 1}},
  {"data": {"name": "iconline"}, "mark": {"type": "rule", "color": "#000000", "strokeWidth": 1}, "encoding": {"y2": {"field": "y2"}}},
  {"data": {"name": "iconbox"}, "mark": {"type": "rect", "fill": "#ffffff", "stroke": "#000000", "strokeWidth": 1}, "encoding": {"x2": {"field": "x2"}, "y2": {"field": "y2"}}},
  {"data": {"name": "labels"}, "transform": [{"filter": {"field": "id", "oneOf": ["k1", "k2", "k3"]}}], "mark": {"type": "text", "align": "left", "baseline": "middle", "font": "Liberation Sans", "fontSize": 10, "color": "#000000"}, "encoding": {"text": {"field": "text"}}},
  {"data": {"name": "labels"}, "transform": [{"filter": {"field": "id", "oneOf": ["r1", "r2"]}}], "mark": {"type": "text", "align": "left", "baseline": "middle", "font": "Liberation Sans", "fontSize": 10, "color": "#ff0000"}, "encoding": {"text": {"field": "text"}}}
 ]
}
